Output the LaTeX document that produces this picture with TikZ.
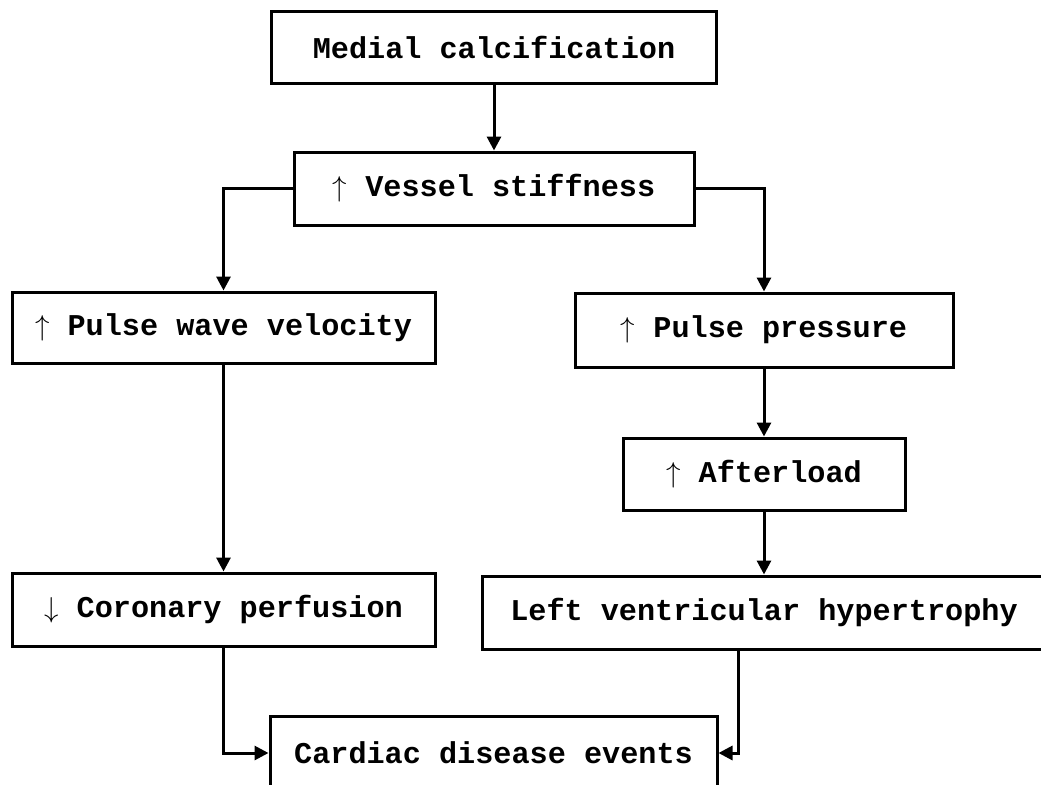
\documentclass[tikz,border=0pt]{standalone}
\usepackage{fontspec}
\setmonofont{Liberation Mono}
\usepackage{tikz}
\usetikzlibrary{positioning, arrows.meta, calc}

\begin{document}
\begin{tikzpicture}[x=0.5pt, y=-0.5pt]
        \tikzstyle{block} = [rectangle, draw, line width=1.5pt, inner sep=0pt, font=\ttfamily\bfseries\fontsize{15.1}{18}\selectfont]
        \tikzstyle{arrow} = [line width=1.5pt, -{Triangle[length=7pt, width=7pt]}]
        \newcommand{\up}{$\uparrow$}
        \newcommand{\down}{$\downarrow$}

        \clip (0,0) rectangle (1041,784);
        \useasboundingbox (0,0) rectangle (1041,784);

        \node [block, minimum width=222.5pt, minimum height=36pt] (medial) at (494,47) {Medial calcification};
        \node [block, minimum width=200pt, minimum height=36.5pt] (vessel) at (494,188.5) {\up{} Vessel stiffness};
        \node [block, minimum width=211.5pt, minimum height=35.5pt] (pwv) at (223.5,327.5) {\up{} Pulse wave velocity};
        \node [block, minimum width=189pt, minimum height=37pt] (pp) at (764,330) {\up{} Pulse pressure};
        \node [block, minimum width=141pt, minimum height=36pt] (after) at (764,474) {\up{} Afterload};
        \node [block, minimum width=211.5pt, minimum height=36.5pt] (coronary) at (223.5,609.5) {\down{} Coronary perfusion};
        \node [block, minimum width=281.5pt, minimum height=36.5pt] (lvh) at (764,612.5) {Left ventricular hypertrophy};
        \node [block, minimum width=223.5pt, minimum height=37pt] (cardiac) at (493.5,753) {Cardiac disease events};

        \draw [arrow] (medial) -- (vessel);
        \draw [arrow] (vessel.west) -| (pwv.north);
        \draw [arrow] (vessel.east) -| (pp.north);
        \draw [arrow] (pp) -- (after);
        \draw [arrow] (after) -- (lvh);
        \draw [arrow] (pwv) -- (coronary);
        \draw [arrow] (coronary.south) |- (cardiac.west);
        \draw [arrow] ([xshift=-13pt]lvh.south) |- (cardiac.east);
    \end{tikzpicture}
\end{document}
